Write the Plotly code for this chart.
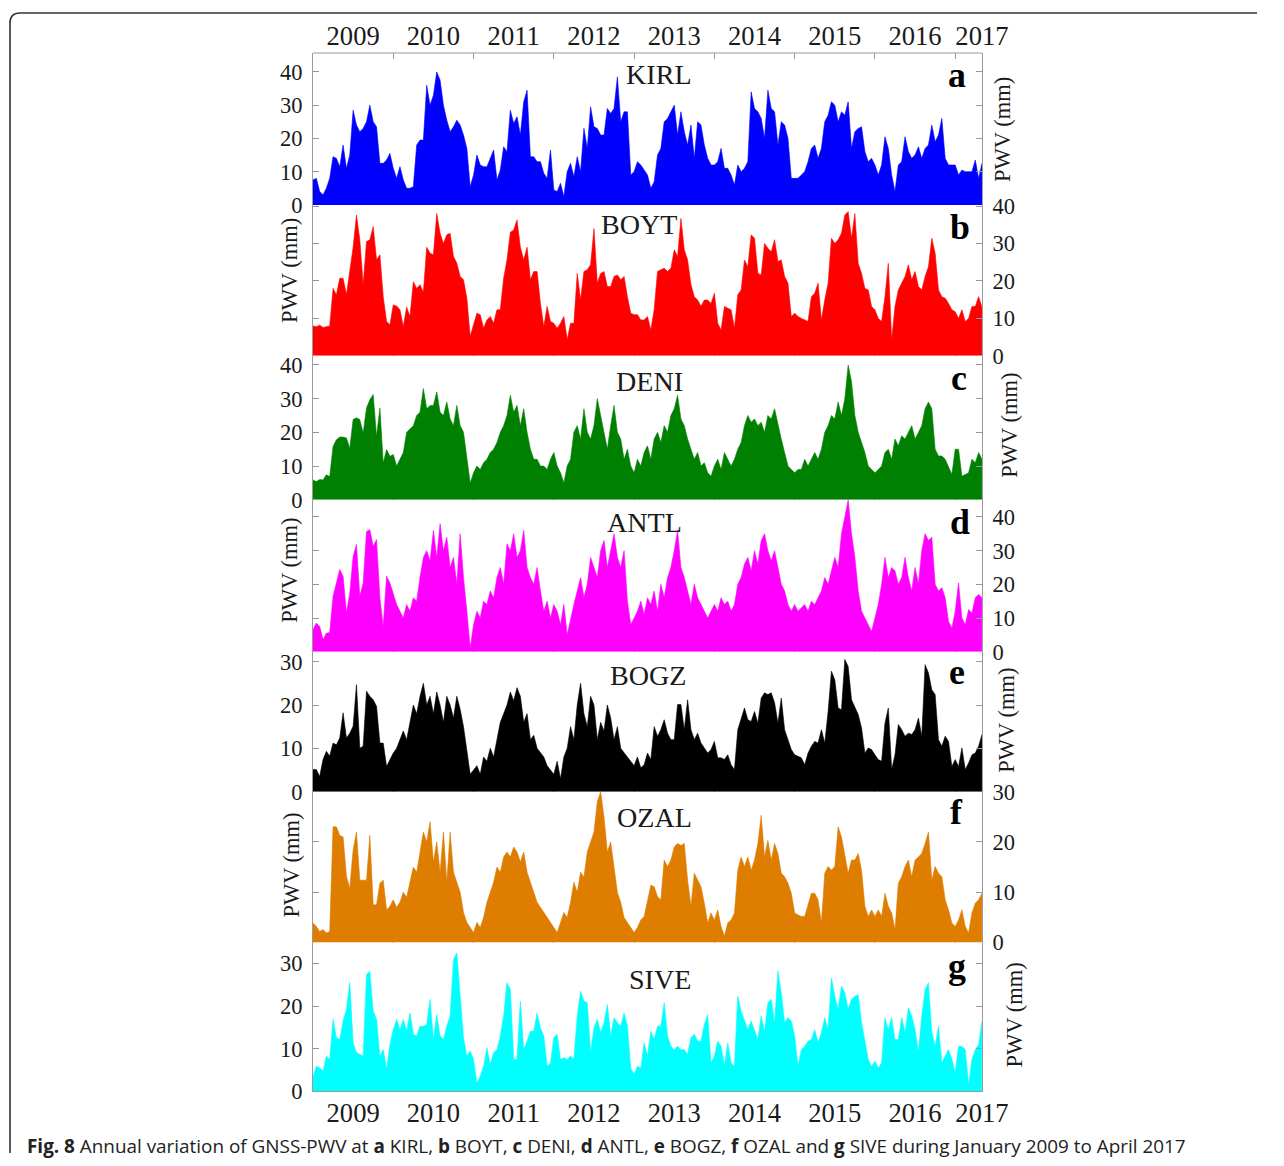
import plotly.graph_objects as go

# ---- data: semi-monthly GNSS-PWV (mm), January 2009 - April 2017 ----
stations = ["KIRL", "BOYT", "DENI", "ANTL", "BOGZ", "OZAL", "SIVE"]
letters = ["a", "b", "c", "d", "e", "f", "g"]
years = [2009, 2010, 2011, 2012, 2013, 2014, 2015, 2016, 2017]
year_label_pos = [2009.5, 2010.5, 2011.5, 2012.5, 2013.5, 2014.5, 2015.5, 2016.5, 2017.333]
year_edges = [2010, 2011, 2012, 2013, 2014, 2015, 2016, 2017]

kirl = [7.5, 8, 4, 3, 5, 8, 14.5, 14, 11.5, 18,
        11, 15, 28.5, 24, 22, 23, 25, 30, 25, 23.5,
        12.5, 12.5, 13.5, 15.5, 11, 8, 11.5, 7.5, 5, 5,
        5.5, 18, 19.5, 19.5, 36, 30, 33, 40, 37.5, 30,
        25.5, 22, 23.5, 25.5, 24, 21, 17, 5.5, 9, 15,
        12, 11.5, 11.5, 14, 16.5, 7.5, 10.5, 17.5, 16, 28.5,
        24.5, 26.5, 21, 31, 34.5, 14.5, 14.5, 13, 13, 9.5,
        8, 16.5, 4.5, 4, 6.5, 2.5, 10, 12.5, 8.5, 14.5,
        10, 23, 17, 29.5, 23.5, 23, 21, 21, 29, 27.5,
        29, 38.5, 25, 28, 28, 9, 10, 13, 12, 10.5,
        9, 5, 7, 15, 17, 25, 26, 28, 30, 21,
        28, 22, 18, 24, 14, 25, 24, 18, 14, 12,
        12, 13, 17, 11, 11, 9, 6, 12, 10, 11,
        13, 34, 29, 28, 26, 20, 34.5, 29, 28, 18,
        25, 24, 20, 8, 8, 8, 9, 10, 13, 17,
        18, 14, 17, 25, 27, 31, 30, 25, 28, 27,
        31, 17, 22, 23, 23.5, 16, 13, 14, 12, 9,
        12, 20.5, 17, 9, 4, 12, 13, 20.5, 16, 14,
        15, 17.5, 14, 17, 18, 24, 19, 21, 26, 14,
        12, 12, 12, 9, 10.5, 10, 10, 10, 13.5, 8,
        12.5]

boyt = [8, 7.8, 8.2, 7.6, 7.8, 8, 18, 16.3, 20.7, 20.7,
        16.3, 22.5, 29, 37.6, 31, 19, 30.5, 31, 34.5, 25.6,
        27, 15.8, 9.2, 8.3, 13.6, 13.3, 12.3, 7.8, 13, 10.5,
        19.8, 18, 19, 17, 29, 27.4, 27, 38, 32.7, 30,
        32.3, 32.7, 26.5, 24.7, 21.2, 20.3, 15.4, 5.2, 8.3, 11.4,
        11, 7.4, 9.6, 10.5, 8.7, 12.3, 12.3, 20.7, 25.6, 33,
        33.6, 36.3, 29, 25.6, 29, 20.3, 22.5, 22.5, 14, 7.8,
        13.2, 9.2, 8.7, 7.4, 8.7, 10.5, 4.3, 8.7, 8.7, 22,
        15, 22.5, 23, 24.3, 34, 19.4, 22, 22.5, 18.5, 18.5,
        21.2, 21.6, 20.3, 21.2, 15.8, 11.4, 11, 11, 9.6, 9.6,
        10.5, 6.9, 12.3, 22.5, 23, 23.4, 22.5, 23.4, 28.3, 26.5,
        36.7, 28.3, 25.6, 19, 15.8, 14.9, 13.2, 14.9, 14.9, 14,
        16.7, 8.7, 6.9, 13.2, 12.7, 12.3, 7.4, 16.3, 17.6, 25.6,
        23.8, 32.3, 31.4, 22, 21.6, 30, 28.7, 27.8, 31, 25.2,
        25.6, 21.2, 19.4, 10.5, 11.4, 10.5, 10, 9.6, 9.2, 15.8,
        16.7, 19.4, 9.6, 14.9, 19.4, 31.4, 30, 31, 32.7, 37.6,
        38.5, 31.4, 38, 24.7, 22, 18, 17.6, 13.2, 12.3, 10,
        9.2, 15.8, 24.7, 4.3, 13.2, 17.6, 19.4, 21.2, 24.3, 20.3,
        22.5, 18.5, 17.6, 21.2, 23.8, 31.4, 27.4, 17.6, 15.8, 15.4,
        14, 12.3, 11.8, 10, 12.3, 9.2, 10, 13.2, 13.2, 15.8,
        13]

deni = [5.9, 5.4, 6, 5.9, 7.4, 6.9, 15.8, 17.8, 18.6, 18.6,
        18.3, 15.3, 23.8, 24.3, 23.8, 19.8, 27.2, 29.7, 31.2, 18.8,
        27.2, 10.9, 14.9, 12.9, 13.4, 10, 12, 14, 20, 21,
        22, 25, 26, 33, 27, 28, 28, 32, 26, 25,
        29, 24, 22, 28, 22, 20, 12, 5, 8, 10,
        9, 11, 12, 14, 15, 17, 20, 22, 25, 31,
        26, 28, 22, 27, 20, 15, 12, 12, 10, 10,
        9, 12, 14, 10, 8, 5, 10, 12, 20, 22,
        18, 27, 20, 18, 22, 30, 25, 20, 15, 22,
        28, 20, 18, 12, 15, 10, 8, 12, 10, 14,
        16, 12, 18, 20, 17, 22, 20, 25, 27, 31,
        24, 22, 18, 15, 12, 14, 10, 11, 8, 7,
        10, 12, 9, 14, 12, 10, 12, 15, 17, 22,
        25, 23, 24, 22, 23, 20, 25, 24, 27, 22,
        18, 14, 10, 9, 8, 9, 9, 12, 10, 12,
        14, 12, 15, 20, 22, 25, 24, 29, 25, 30,
        40, 35, 25, 20, 17, 14, 10, 9, 8, 9,
        10, 14, 15, 12, 18, 16, 19, 18, 20, 22,
        18, 20, 22, 27, 29, 27, 15, 13, 13, 12,
        10, 7.5, 15, 15, 7, 7.5, 8, 12, 11, 14,
        12]

antl = [6.5, 8.5, 7.5, 3.6, 5.5, 5.7, 16.4, 20.4, 24.4, 22.4,
        11.5, 17.4, 28.3, 31.8, 16.4, 20.4, 35.7, 36.2, 31.3, 33.3,
        15.9, 7.5, 22.4, 20.4, 17.4, 14, 12, 10, 14, 12,
        16, 15, 22, 28, 30, 27, 36, 28, 38, 30,
        34, 25, 28, 20, 35, 22, 12, 1, 8, 12,
        10, 15, 14, 18, 16, 22, 25, 20, 32, 30,
        35, 28, 30, 36, 25, 22, 20, 25, 18, 12,
        15, 10, 14, 12, 8, 14, 5, 10, 14, 18,
        22, 16, 20, 28, 25, 22, 30, 33, 25, 30,
        35, 28, 25, 30, 15, 8, 10, 12, 15, 11,
        16, 14, 18, 12, 20, 16, 22, 25, 30, 36,
        25, 22, 18, 14, 20, 16, 14, 12, 10, 12,
        14, 12, 16, 14, 15, 12, 14, 20, 22, 26,
        28, 24, 30, 26, 33, 35, 30, 27, 30, 25,
        20, 18, 14, 12, 14, 12, 13, 14, 12, 15,
        14, 16, 18, 22, 20, 24, 28, 25, 35, 40,
        45, 35, 28, 18, 12, 10, 8, 6, 10, 14,
        20, 28, 22, 25, 24, 20, 22, 28, 22, 18,
        25, 20, 30, 35, 33, 34, 20, 18, 19, 16,
        9, 7, 12, 20.4, 10, 8, 12.5, 11.5, 16, 17,
        16]

bogz = [5.1, 5.1, 3.5, 7.4, 9.3, 8.2, 11.2, 10.8, 12.4, 18.2,
        12.4, 13.5, 15.1, 24.7, 10, 10.5, 23.2, 22, 21.2, 19.7,
        11.2, 11.2, 5.8, 7.4, 8.9, 10, 12, 14, 12, 16,
        20, 18, 22, 25, 20, 22, 18, 23, 20, 16,
        22, 20, 17, 22, 19, 15, 10, 4, 5, 6,
        4, 8, 7, 10, 8, 12, 16, 18, 20, 23,
        21, 24, 22, 16, 18, 12, 13, 10, 9, 8,
        6, 5, 4, 7, 3, 8, 10, 15, 12, 20,
        25, 18, 15, 22, 20, 12, 16, 14, 20, 17,
        12, 15, 10, 9, 8, 7, 6, 8, 5.5, 6.2,
        8.9, 7.4, 15, 12.8, 14.3, 16.6, 13.5, 12, 12, 20.1,
        20.1, 14.3, 21.2, 14.3, 12, 13.5, 11.2, 10.1, 8.9, 9.7,
        11.6, 7.8, 7.8, 7.4, 8.5, 6.2, 5.1, 14.3, 17, 19.3,
        16.6, 16.2, 18.5, 15.8, 21.6, 22.8, 22.4, 22.8, 20.5, 15.8,
        21.6, 14.3, 12, 9.7, 8.5, 8.2, 7.8, 6.2, 8.9, 10.5,
        11.6, 11.2, 14.3, 11.2, 18.5, 27.8, 25.8, 19.3, 18.9, 30.5,
        28.9, 21.2, 19.3, 17.8, 14.7, 8.9, 10.1, 9.7, 8.5, 7.4,
        7, 15.8, 19.3, 5.1, 8.5, 15.5, 14.3, 12.8, 13.5, 13.2,
        14.3, 17, 12.8, 29.3, 27.4, 23.5, 22.4, 12, 10.5, 12.8,
        11.6, 5.8, 7.4, 5.8, 10.1, 5.1, 6.6, 8.5, 8.9, 10.5,
        13.2]

ozal = [3.9, 3.2, 2.2, 2.6, 1.9, 2.2, 23, 23, 21.3, 21,
        13.2, 10.8, 18.4, 22, 12.4, 12.4, 12.4, 21.3, 7.5, 7.5,
        11.8, 12.4, 6.5, 7.2, 8.5, 7, 8, 10, 9, 12,
        15, 14, 18, 22, 20, 24, 16, 20, 14, 22,
        12, 22, 14, 12, 10, 6, 4, 3, 2, 4,
        3, 5, 8, 10, 12, 15, 14, 17, 18, 17,
        19, 18, 16, 18, 14, 12, 10, 8, 7, 6,
        5, 4, 3, 2, 4, 6, 5, 8, 12, 10,
        14, 13, 18, 20, 22, 28, 30, 25, 18, 20,
        15, 10, 8, 5, 4, 3, 2, 3, 4.5, 5.2,
        8.5, 11.4, 11.1, 9.1, 8.5, 16.4, 15.1, 16.4, 19, 19.7,
        19.3, 19.7, 12.4, 7.2, 13.8, 12.4, 11.1, 7.8, 3.9, 5.9,
        4.5, 6.5, 3.2, 1.3, 3.9, 4.5, 5.9, 14.4, 17, 15.1,
        17, 14.4, 16.4, 19.7, 25.3, 17, 20.3, 16.4, 19.7, 17.7,
        13.8, 13.1, 11.8, 9.8, 5.9, 5.5, 5.2, 5.2, 7.8, 9.8,
        9.8, 8.5, 3.9, 13.8, 15.1, 14.4, 15.1, 23, 21, 17,
        13.8, 16.4, 16.4, 17.7, 14.4, 7.2, 5.2, 6.5, 5.2, 6.5,
        5.2, 9.8, 7.2, 5.9, 2.6, 11.8, 13.1, 15.1, 16.4, 13.1,
        16.4, 17, 17.7, 19.7, 22, 12.4, 15.1, 13.8, 13.1, 8.5,
        6.5, 3.9, 3.2, 4.5, 6.5, 3.2, 1.9, 5.9, 7.8, 8.5,
        9.8]

sive = [3.6, 5.9, 5.5, 4.8, 8.3, 7.5, 16.9, 12.6, 12.2, 16.5,
        19.2, 25.5, 11.4, 9.1, 8.7, 8.3, 27.4, 28.2, 18.8, 16.9,
        8.3, 9.8, 5.2, 11, 14.5, 16.9, 14.5, 16.9, 14.1, 18.4,
        13.4, 13, 15.3, 15.3, 15.7, 21.6, 12.2, 18, 13, 12.2,
        15.3, 17.7, 30.9, 32.5, 22.3, 12.6, 8.3, 9.5, 7.5, 2,
        3.6, 5.9, 10.2, 6.3, 9.1, 9.8, 13, 17.7, 25.5, 23.9,
        7.5, 7.5, 21.2, 9.8, 11.8, 14.1, 14.1, 18.4, 14.9, 13,
        5.9, 6.7, 12.6, 13.4, 7.5, 7.9, 7.5, 8.3, 7.5, 17.7,
        23.5, 21.2, 20.8, 9.1, 14.9, 16.9, 13.8, 16.1, 20.4, 13,
        17.3, 16.1, 15.3, 18.4, 15.3, 5.5, 4, 5.9, 5.5, 11.4,
        8.3, 14.1, 12.2, 15.3, 15.3, 20.8, 13, 10.6, 9.8, 10.6,
        9.8, 9.8, 8.7, 12.6, 13.4, 11.8, 11.8, 15.7, 18, 6.7,
        8.3, 11.8, 10.6, 5.9, 11.4, 6.7, 5.9, 22.3, 18.8, 16.5,
        14.5, 16.5, 14.1, 12.2, 17.7, 13.8, 20.8, 21.6, 16.1, 28.2,
        23.1, 16.1, 17.3, 16.5, 13, 5.9, 9.8, 10.6, 11.8, 12.2,
        14.5, 11.4, 13.8, 17.3, 14.5, 26.6, 22.3, 19.2, 24.7, 23.1,
        19.2, 21.6, 22.3, 22.7, 16.1, 12.2, 7.5, 5.9, 7.1, 5.5,
        6.7, 17.3, 14.5, 17.3, 12.2, 12.2, 17.3, 13.8, 19.6, 17.7,
        14.5, 9.1, 17.7, 23.9, 25.5, 13.8, 10.6, 15.3, 6.7, 8.3,
        9.8, 7.5, 4.4, 10.6, 10.6, 9.8, 1.6, 7.5, 9.8, 11,
        16.5]

series = [kirl, boyt, deni, antl, bogz, ozal, sive]

# ---- styling / layout constants ----
W, H = 1284, 1166
# page placement: design coordinates -> figure pixels (viewer scale and top offset)
SCALE, OFFSET_Y = 0.979, 12.0
colors = ["#0000FF", "#FF0000", "#008000", "#FF00FF", "#000000", "#DE7D00", "#00FFFF"]
y_top = [45.7, 40.3, 42.7, 45.1, 32.3, 30.0, 34.9]
y_ticks = [[0, 10, 20, 30, 40]] * 4 + [[0, 10, 20, 30]] * 3
label_side = ["left", "right", "left", "right", "left", "right", "left"]
panel_top = [53, 205, 356, 500, 652, 792, 943]
panel_bot = [205, 356, 500, 652, 792, 943, 1092]
X_LEFT, X_RIGHT = 313, 982
AXIS = "#9a9a9a"
TEXT = "#1a1a1a"
SERIF = "Liberation Serif, Times New Roman, serif"

name_pos = [(659, 75), (639, 225), (650, 382), (645, 523), (648, 676), (655, 818), (660, 980)]
letter_pos = [(957, 75), (960, 227), (959, 378), (960, 522), (957, 672), (957, 812), (957, 966)]
pwv_pos = [(1003, 129), (290, 270), (1010, 425), (290, 570), (1007, 720), (292, 865), (1015, 1015)]


def px(x):
    return (x / SCALE) / W


def py(y):
    return 1 - ((y - OFFSET_Y) / SCALE) / H


def fs(size):
    return round(size / SCALE, 1)


t = [2009 + i / 24 for i in range(len(kirl))]

fig = go.Figure()
layout = dict(
    width=W, height=H,
    margin=dict(l=0, r=0, t=0, b=0),
    paper_bgcolor="white", plot_bgcolor="white",
    showlegend=False,
)

annotations = []
for k, vals in enumerate(series):
    sfx = "" if k == 0 else str(k + 1)
    fig.add_trace(go.Scatter(
        x=t, y=vals, mode="lines", fill="tozeroy",
        fillcolor=colors[k], line=dict(color=colors[k], width=0.6),
        xaxis="x" + sfx, yaxis="y" + sfx, hoverinfo="skip",
    ))
    show_years = k in (0, 6)
    layout["xaxis" + sfx] = dict(
        domain=[px(X_LEFT), px(X_RIGHT)],
        range=[2009, 2017 + 1 / 3],
        anchor="y" + sfx,
        side="top" if k == 0 else "bottom",
        tickmode="array", tickvals=year_label_pos,
        ticktext=[str(y) for y in years],
        ticks="", showticklabels=show_years,
        ticklabelstandoff=2 if k == 0 else 3,
        tickfont=dict(family=SERIF, size=fs(26), color=TEXT),
        minor=dict(tickmode="array", tickvals=year_edges, ticks="inside",
                   ticklen=6, tickcolor=AXIS, tickwidth=1),
        mirror="ticks", showline=False, showgrid=False, zeroline=False,
        layer="below traces", fixedrange=True,
    )
    layout["yaxis" + sfx] = dict(
        domain=[py(panel_bot[k]), py(panel_top[k])],
        range=[0, y_top[k]],
        anchor="x" + sfx,
        side=label_side[k],
        tickmode="array", tickvals=y_ticks[k],
        ticks="inside", ticklen=6, tickcolor=AXIS,
        showline=True, linecolor=AXIS, linewidth=1.2, mirror="ticks",
        showgrid=False, zeroline=False,
        ticklabelstandoff=5,
        tickfont=dict(family=SERIF, size=fs(22), color=TEXT),
        fixedrange=True,
    )
    nx, ny = name_pos[k]
    annotations.append(dict(x=px(nx), y=py(ny), xref="paper", yref="paper",
                            text=stations[k], showarrow=False,
                            xanchor="center", yanchor="middle",
                            font=dict(family=SERIF, size=fs(27.5), color=TEXT)))
    lx, ly = letter_pos[k]
    annotations.append(dict(x=px(lx), y=py(ly), xref="paper", yref="paper",
                            text="<b>" + letters[k] + "</b>", showarrow=False,
                            xanchor="center", yanchor="middle",
                            font=dict(family=SERIF, size=fs(35), color="black")))
    wx, wy = pwv_pos[k]
    annotations.append(dict(x=px(wx), y=py(wy), xref="paper", yref="paper",
                            text="PWV (mm)", showarrow=False, textangle=-90,
                            xanchor="center", yanchor="middle",
                            font=dict(family=SERIF, size=fs(22), color=TEXT)))

caption = ("<b>Fig. 8</b> Annual variation of GNSS-PWV at <b>a</b> KIRL, <b>b</b> BOYT, "
           "<b>c</b> DENI, <b>d</b> ANTL, <b>e</b> BOGZ, <b>f</b> OZAL and <b>g</b> SIVE "
           "during January 2009 to April 2017")
annotations.append(dict(x=px(25), y=py(1147), xref="paper", yref="paper",
                        text=caption, showarrow=False, xanchor="left", yanchor="middle",
                        font=dict(family="Open Sans, Noto Sans, sans-serif", size=fs(18.5),
                                  color="#222222")))
layout["annotations"] = annotations

# panel frame: top edge of the first panel and bottom edge of the last one
shapes = [
    dict(type="line", xref="paper", yref="paper",
         x0=px(X_LEFT), x1=px(X_RIGHT), y0=py(panel_top[0]), y1=py(panel_top[0]),
         line=dict(color=AXIS, width=1.2)),
    dict(type="line", xref="paper", yref="paper",
         x0=px(X_LEFT), x1=px(X_RIGHT), y0=py(panel_bot[6]), y1=py(panel_bot[6]),
         line=dict(color=AXIS, width=1.2)),
]

# rounded outer border of the figure box (left and top edges)
bx0, by0, r = 10, 13, 10
path = (f"M {px(bx0)},0 L {px(bx0)},{py(by0 + r)} "
        f"Q {px(bx0)},{py(by0)} {px(bx0 + r)},{py(by0)} "
        f"L 1,{py(by0)}")
shapes.append(dict(type="path", xref="paper", yref="paper", path=path,
                   line=dict(color="#333333", width=1.6)))
layout["shapes"] = shapes

fig.update_layout(**layout)
fig.write_html("out.html")
